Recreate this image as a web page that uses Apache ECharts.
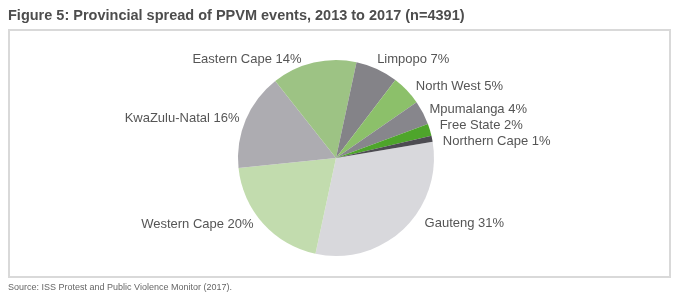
<!DOCTYPE html>
<html>
<head>
<meta charset="utf-8">
<script src="https://cdn.jsdelivr.net/npm/echarts@6/dist/echarts.min.js"></script>
<style>
	html, body { margin: 0; padding: 0; background: #fff; }
	#chart { width: 684px; height: 304px; }
</style>
</head>
<body>
<div id="chart"></div>
<script>
	// provinces in clockwise order, starting from Gauteng
	var provinces = ['Gauteng', 'Western Cape', 'KwaZulu-Natal', 'Eastern Cape', 'Limpopo',
		'North West', 'Mpumalanga', 'Free State', 'Northern Cape'];
	var shares = [31, 20, 16, 14, 7, 5, 4, 2, 1];
	var sliceColors = ['#d8d8dc', '#c2dcae', '#adacb1', '#9dc384', '#848388',
		'#8cc06a', '#87868c', '#4ea52b', '#4d4c52'];

	var titleText = 'Figure 5: Provincial spread of PPVM events, 2013 to 2017 (n=4391)';
	var sourceText = 'Source: ISS Protest and Public Violence Monitor (2017).';

	var myChart = echarts.init(document.getElementById('chart'));

	var pieData = provinces.map(function (name, i) {
		return { name: name, value: shares[i], itemStyle: { color: sliceColors[i] } };
	});

	// small nudges so the labels sit like the original best-fit layout
	var labelNudge = [[9, -13], [3, -6], [8, 2], [-5, 7], [-9, 0], [0, 3], [-3, 1], [0, -2], [0, -1]];

	var option = {
		animation: false,
		textStyle: { fontFamily: 'Liberation Sans' },
		title: [{
			text: titleText,
			left: 3,
			top: 3,
			textStyle: { color: '#4d4d4d', fontSize: 14.5, fontWeight: 'bold' }
		}, {
			text: sourceText,
			left: 3,
			top: 278,
			textStyle: { color: '#666', fontSize: 9, fontWeight: 'normal' }
		}],
		graphic: [{
			type: 'rect',
			shape: { x: 9, y: 30, width: 661, height: 247 },
			style: { fill: 'none', stroke: '#d9d9d9', lineWidth: 2 },
			z: -1
		}],
		series: [{
			type: 'pie',
			center: [336, 158],
			radius: 98,
			startAngle: 9.5,
			clockwise: true,
			avoidLabelOverlap: true,
			label: {
				show: true,
				position: 'outside',
				formatter: '{b} {c}%',
				color: '#555',
				fontSize: 13
			},
			labelLine: { show: false, length: 10, length2: 0 },
			labelLayout: function (params) {
				var n = labelNudge[params.dataIndex];
				return { dx: n[0], dy: n[1] };
			},
			emphasis: { disabled: true },
			data: pieData
		}]
	};

	myChart.setOption(option);
</script>
</body>
</html>
